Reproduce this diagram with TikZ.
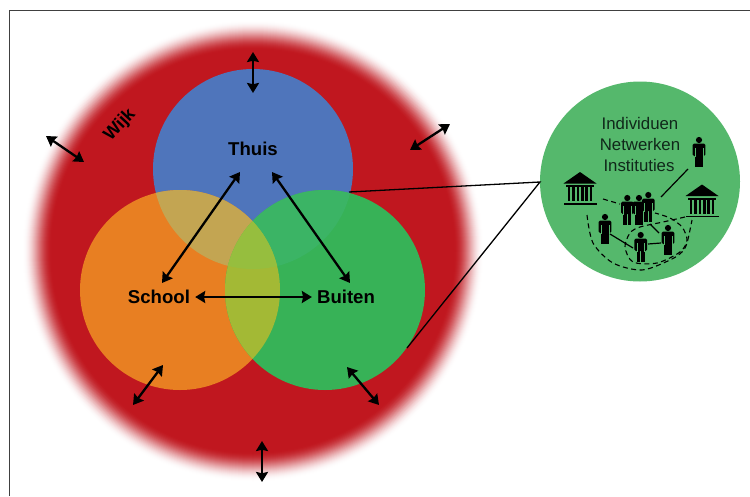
\documentclass[tikz,border=0pt]{standalone}
\usepackage{fontspec}
\setmainfont{Liberation Sans}
\usetikzlibrary{arrows.meta,shapes.geometric}
\definecolor{wred}{HTML}{C0171F}
\definecolor{wblue}{HTML}{4F75BB}
\definecolor{worange}{HTML}{E87F22}
\definecolor{wgreen}{HTML}{37B257}
\definecolor{wbo}{HTML}{C3A552}
\definecolor{wbg}{HTML}{3BB465}
\definecolor{wog}{HTML}{A3B935}
\definecolor{wbog}{HTML}{96BE3E}
\definecolor{wlight}{HTML}{55B86C}
\definecolor{wtext}{HTML}{10281A}
\tikzset{
  x=1pt,y=-1pt,
  venn/.style={circle,minimum size=200pt,inner sep=0pt,outer sep=0pt},
  bigarrow/.style={line width=2.3pt,{Stealth[length=10pt,width=12pt,inset=1.2pt]}-{Stealth[length=10pt,width=12pt,inset=1.2pt]}},
  zoomline/.style={line width=1.3pt,black},
  boldlabel/.style={font=\fontsize{18.6}{20}\selectfont\bfseries,text=black,inner sep=5pt},
  smalltext/.style={font=\fontsize{16.8}{18}\selectfont,text=wtext,inner sep=0pt},
  solidlink/.style={line width=1.2pt,black},
  dashlink/.style={line width=1.1pt,black,dash pattern=on 5pt off 3.5pt},
  person/.pic={
    \fill[black] (0,3) circle[radius=3.1];
    \fill[black,rounded corners=1.5pt] (-6.3,6.5) rectangle (6.3,19);
    \fill[black] (-3.8,10) rectangle (3.8,19);
    \fill[black] (-4,18) rectangle (-0.3,30);
    \fill[black] (0.3,18) rectangle (4,30);
    \fill[wlight] (-4.1,11) rectangle (-3.7,20);
    \fill[wlight] (3.7,11) rectangle (4.1,20);
  },
  temple/.pic={
    \fill[black] (0,0) -- (16.5,11.5) -- (-16.5,11.5) -- cycle;
    \fill[black] (-14,13) rectangle (14,15);
    \foreach \cx in {-11,-6.6,-2.2,2.2,6.6,11}{\fill[black] (\cx-1.3,15) rectangle (\cx+1.3,29);}
    \fill[black] (-16.5,31) rectangle (16.5,32.6);
  }
}
\begin{document}
\begin{tikzpicture}
\useasboundingbox (0,0) rectangle (750,496);
\fill[white] (0,0) rectangle (750,496);
\draw[line width=1pt,black!75] (9.5,496) -- (9.5,10.5) -- (750,10.5);
% neighbourhood: solid disc with a soft rim
\foreach \i in {0,...,30}{
  \pgfmathsetmacro{\rad}{231-\i}
  \pgfmathsetmacro{\mix}{100*(0.5-0.5*cos(180*\i/30))}
  \fill[wred!\mix!white] (253,251) circle[radius=\rad];
}
% three settings
\node[venn,fill=wblue] (thuisc) at (253,169) {};
\node[venn,fill=worange] (schoolc) at (180,290) {};
\node[venn,fill=wgreen] (buitenc) at (325,290) {};
\begin{scope}
 \clip (253,169) circle[radius=100];
 \fill[wbo] (180,290) circle[radius=100];
 \fill[wbg] (325,290) circle[radius=100];
\end{scope}
\begin{scope}
 \clip (180,290) circle[radius=100];
 \fill[wog] (325,290) circle[radius=100];
 \clip (325,290) circle[radius=100];
 \fill[wbog] (253,169) circle[radius=100];
\end{scope}
% zoom circle
\node[venn,fill=wlight] (zoomc) at (640,181.5) {};
\coordinate (za) at (349,192);
\coordinate (zb) at (407,348);
\coordinate (zt) at (540,182);
\draw[zoomline] (za) -- (zt) -- (zb);
% labels
\node[boldlabel] (thuis) at (253,149) {Thuis};
\node[boldlabel] (school) at (159,297) {School};
\node[boldlabel] (buiten) at (346,297) {Buiten};
\node[font=\fontsize{18}{18}\selectfont\bfseries,rotate=47,inner sep=0pt] (wijk) at (120,125) {Wijk};
% arrows
\coordinate (a1) at (253,52); \coordinate (a2) at (253,93);
\coordinate (b1) at (46,136); \coordinate (b2) at (84,162);
\coordinate (c1) at (410,150); \coordinate (c2) at (450,124);
\coordinate (d1) at (133,405); \coordinate (d2) at (163,365);
\coordinate (e1) at (347,367); \coordinate (e2) at (379,405);
\coordinate (f1) at (262,441); \coordinate (f2) at (262,482);
\coordinate (g1) at (240,172); \coordinate (g2) at (162,283);
\coordinate (h1) at (272,172); \coordinate (h2) at (350,283);
\draw[bigarrow] (a1) -- (a2);
\draw[bigarrow] (b1) -- (b2);
\draw[bigarrow] (c1) -- (c2);
\draw[bigarrow] (d1) -- (d2);
\draw[bigarrow] (e1) -- (e2);
\draw[bigarrow] (f1) -- (f2);
\draw[bigarrow] (g1) -- (g2);
\draw[bigarrow] (h1) -- (h2);
\draw[bigarrow] (school.east) -- (buiten.west);
% zoom content
\node[smalltext] (t1) at (640,123) {Individuen};
\node[smalltext] (t2) at (640,144.5) {Netwerken};
\node[smalltext] (t3) at (639,165) {Instituties};
\draw[dashlink] plot[smooth] coordinates {(587,215) (593,243) (613,263) (642,270) (670,260) (682,252) (687,243) (692,220)};
\draw[dashlink] plot[smooth] coordinates {(685,217) (663,222) (640,227) (630,233) (625,247) (633,262) (657,263) (680,252) (687,240) (682,227) (670,218) (655,213)};
\draw[dashlink] (603,199) -- (620,204);
\draw[solidlink] (688,169) -- (661,197);
\draw[solidlink] (610,234) -- (633,248);
\draw[solidlink] (648,244) -- (661,243);
\draw[solidlink] (650,224) -- (659,233);
\pic at (699,137) {person};
\pic at (627.3,195) {person};
\pic at (639,195) {person};
\pic at (648.3,192) {person};
\pic at (605,214) {person};
\pic at (640.7,232) {person};
\pic at (668,225) {person};
\pic at (580,172) {temple};
\pic at (702,184.5) {temple};
\end{tikzpicture}
\end{document}
